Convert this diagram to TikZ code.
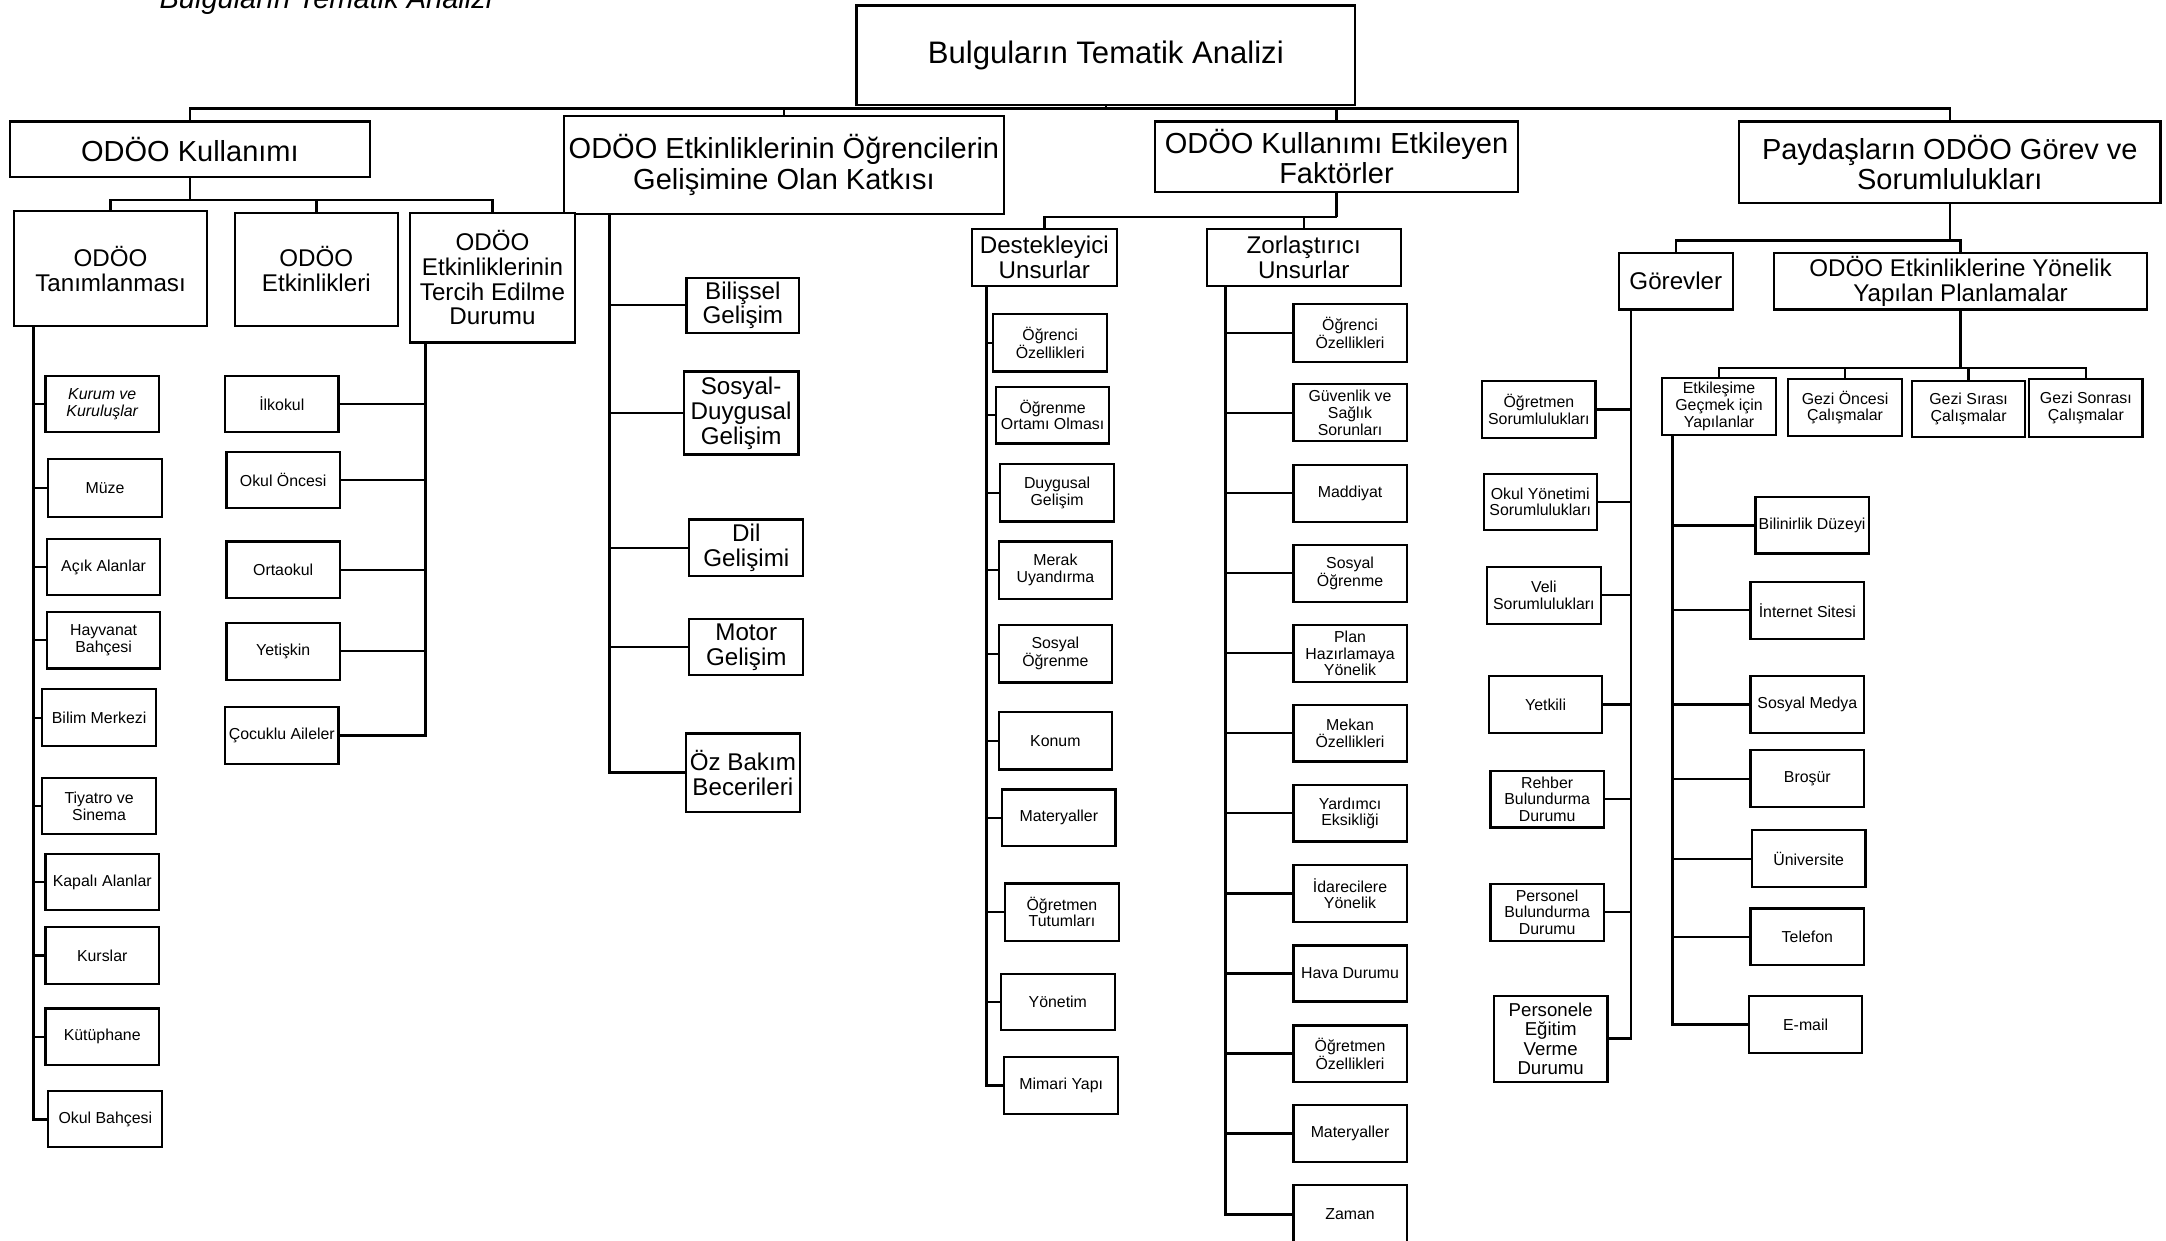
\documentclass[tikz,border=0pt]{standalone}
\usepackage{fontspec}
\setmainfont{Liberation Sans}
\usetikzlibrary{backgrounds}
\newcommand\fsz[2]{\fontsize{#1}{#2}\selectfont}
% \bx{name}{style}{x1}{y1}{x2}{y2}{text}
\newcommand\bx[7]{\node[#2, minimum width={(#5-#3)*1pt}, minimum height={(#6-#4)*1pt}] (#1) at ({(#3+#5)/2},{(#4+#6)/2}) {#7};}
\tikzset{
  box/.style={draw, line width=1.6pt, inner sep=0pt, align=center, fill=white},
  sbox/.style={box, font=\fsz{11.5}{12}},
  pbox/.style={box, font=\fsz{13.5}{14}},
  mbox/.style={box, font=\fsz{17.5}{18}},
  lbox/.style={box, font=\fsz{21}{22}},
  rbox/.style={box, font=\fsz{22.5}{24}},
  bus/.style={line width=1.7pt, line join=miter},
  trunk/.style={line width=2.1pt, line join=miter},
  branch/.style={line width=1.6pt},
}
\begin{document}
\begin{tikzpicture}[x=1pt,y=-1pt]
\useasboundingbox (0,0) rectangle (1568,898);

\node[anchor=base west, font=\fsz{21}{22}\itshape] (title) at (112,6) {Bulguların Tematik Analizi};

% level 0 / 1
\bx{root}{rbox}{620}{4}{981}{76}{Bulguların Tematik Analizi}
\bx{kull}{lbox}{7}{88}{268}{128}{ODÖO Kullanımı}
\bx{katki}{lbox}{408}{84}{727}{155}{ODÖO Etkinliklerinin Öğrencilerin\\Gelişimine Olan Katkısı}
\bx{fak}{lbox}{836}{88}{1099}{139}{ODÖO Kullanımı Etkileyen\\Faktörler}
\bx{pay}{lbox}{1259}{88}{1564}{147}{Paydaşların ODÖO Görev ve\\Sorumlulukları}

% ODÖO Kullanımı
\bx{tan}{mbox}{10}{153}{150}{236}{ODÖO\\Tanımlanması}
\bx{etk}{mbox}{170}{154}{288}{236}{ODÖO\\Etkinlikleri}
\bx{terc}{mbox}{297}{154}{416}{248}{ODÖO\\Etkinliklerinin\\Tercih Edilme\\Durumu}

\bx{kurum}{sbox}{33}{272}{115}{313}{\itshape Kurum ve\\\itshape Kuruluşlar}
\bx{muze}{sbox}{35}{332}{117}{374}{Müze}
\bx{acik}{sbox}{34}{390}{116}{431}{Açık Alanlar}
\bx{hayv}{sbox}{34}{443}{116}{484}{Hayvanat\\Bahçesi}
\bx{bilim}{sbox}{30.5}{499}{113}{540}{Bilim Merkezi}
\bx{tiy}{sbox}{30.5}{563}{113}{604}{Tiyatro ve\\Sinema}
\bx{kapali}{sbox}{33}{618}{115}{659}{Kapalı Alanlar}
\bx{kurs}{sbox}{33}{671}{115}{712.5}{Kurslar}
\bx{kutup}{sbox}{33}{730}{115}{771}{Kütüphane}
\bx{okulb}{sbox}{35}{790}{117.5}{830.5}{Okul Bahçesi}

\bx{ilk}{sbox}{163}{272}{245}{313}{İlkokul}
\bx{onc}{sbox}{164}{327}{246}{368}{Okul Öncesi}
\bx{orta}{sbox}{164}{392}{246}{433}{Ortaokul}
\bx{yet}{sbox}{164}{451}{246}{492}{Yetişkin}
\bx{cocuk}{sbox}{163}{512}{245}{553}{Çocuklu Aileler}

% Katkı
\bx{bil}{mbox}{497}{201}{578.5}{241}{Bilişsel\\Gelişim}
\bx{sos}{mbox}{495}{269}{578}{329}{Sosyal-\\Duygusal\\Gelişim}
\bx{dil}{mbox}{499}{376}{581.5}{417}{Dil\\Gelişimi}
\bx{mot}{mbox}{499}{448}{581.5}{488.5}{Motor\\Gelişim}
\bx{oz}{mbox}{496.5}{531}{579}{588}{Öz Bakım\\Becerileri}

% Faktörler
\bx{dest}{mbox}{703.5}{166}{808.5}{207}{Destekleyici\\Unsurlar}
\bx{zor}{mbox}{873.5}{166}{1014}{207}{Zorlaştırıcı\\Unsurlar}

\bx{d1}{sbox}{719}{227.5}{801.5}{269}{Öğrenci\\Özellikleri}
\bx{d2}{sbox}{721}{280}{803}{321}{Öğrenme\\Ortamı Olması}
\bx{d3}{sbox}{724}{336}{806.5}{377.5}{Duygusal\\Gelişim}
\bx{d4}{sbox}{723}{392}{805}{433.5}{Merak\\Uyandırma}
\bx{d5}{sbox}{723}{452.5}{805}{494}{Sosyal\\Öğrenme}
\bx{d6}{sbox}{723}{515.5}{805}{557}{Konum}
\bx{d7}{sbox}{725.5}{571.5}{807.5}{612.5}{Materyaller}
\bx{d8}{sbox}{727.5}{639.5}{810}{681}{Öğretmen\\Tutumları}
\bx{d9}{sbox}{724.5}{705}{807}{745.5}{Yönetim}
\bx{d10}{sbox}{727}{765}{809.5}{806.5}{Mimari Yapı}

\bx{z1}{sbox}{936.3}{220.3}{1018.3}{261.8}{Öğrenci\\Özellikleri}
\bx{z2}{sbox}{936.3}{278.2}{1018.3}{319.5}{Güvenlik ve\\Sağlık\\Sorunları}
\bx{z3}{sbox}{936.3}{336.6}{1018.3}{377.6}{Maddiyat}
\bx{z4}{sbox}{936.3}{394.5}{1018.3}{435.6}{Sosyal\\Öğrenme}
\bx{z5}{sbox}{936.3}{452.4}{1018.3}{493.5}{Plan\\Hazırlamaya\\Yönelik}
\bx{z6}{sbox}{936.3}{510.4}{1018.3}{551.2}{Mekan\\Özellikleri}
\bx{z7}{sbox}{936.3}{568.5}{1018.3}{609.1}{Yardımcı\\Eksikliği}
\bx{z8}{sbox}{936.3}{626.4}{1018.3}{667.3}{İdarecilere\\Yönelik}
\bx{z9}{sbox}{936.3}{684.4}{1018.3}{725}{Hava Durumu}
\bx{z10}{sbox}{936.3}{742.3}{1018.3}{783.1}{Öğretmen\\Özellikleri}
\bx{z11}{sbox}{936.3}{800}{1018.3}{841.2}{Materyaller}
\bx{z12}{sbox}{936.3}{858.1}{1018.3}{900}{Zaman}

% Paydaşlar
\bx{gor}{mbox}{1172}{183}{1254.3}{224}{Görevler}
\bx{plan}{mbox}{1284}{183}{1554.5}{224}{ODÖO Etkinliklerine Yönelik\\Yapılan Planlamalar}

\bx{g1}{sbox}{1073}{276}{1155}{317}{Öğretmen\\Sorumlulukları}
\bx{g2}{sbox}{1074}{343}{1156}{383.5}{Okul Yönetimi\\Sorumlulukları}
\bx{g3}{sbox}{1076.5}{410.5}{1158.7}{451.5}{Veli\\Sorumlulukları}
\bx{g4}{sbox}{1078}{489.4}{1159.7}{530.6}{Yetkili}
\bx{g5}{sbox}{1079}{558}{1161}{599}{Rehber\\Bulundurma\\Durumu}
\bx{g6}{sbox}{1079}{639.7}{1161}{681}{Personel\\Bulundurma\\Durumu}
\bx{g7}{pbox}{1081.4}{721}{1163.7}{783}{Personele\\Eğitim\\Verme\\Durumu}

\bx{p1}{sbox}{1203.4}{273.4}{1285.5}{315}{Etkileşime\\Geçmek için\\Yapılanlar}
\bx{p2}{sbox}{1294.6}{274.4}{1376.7}{315.6}{Gezi Öncesi\\Çalışmalar}
\bx{p3}{sbox}{1384.1}{275.6}{1466.1}{316.6}{Gezi Sırası\\Çalışmalar}
\bx{p4}{sbox}{1469}{274.6}{1551}{316.1}{Gezi Sonrası\\Çalışmalar}

\bx{e1}{sbox}{1270.8}{360}{1352.8}{400.7}{Bilinirlik Düzeyi}
\bx{e2}{sbox}{1267.2}{421.3}{1349.5}{462.4}{İnternet Sitesi}
\bx{e3}{sbox}{1267.2}{489.3}{1349.5}{530.6}{Sosyal Medya}
\bx{e4}{sbox}{1267.2}{543.1}{1349.5}{584.2}{Broşür}
\bx{e5}{sbox}{1268.2}{601}{1350.5}{642.1}{Üniversite}
\bx{e6}{sbox}{1267.2}{657.7}{1349.5}{698.8}{Telefon}
\bx{e7}{sbox}{1266.1}{721}{1348.1}{762.3}{E-mail}

% connector helper coordinates
\coordinate (mainbus) at (0,78.5);
\coordinate (kb) at (0,145);
\coordinate (fb) at (0,157);
\coordinate (pb) at (0,174.2);
\coordinate (plb) at (0,266.2);
\coordinate (tanT) at (24.5,236);
\coordinate (tercT) at (308,248);
\coordinate (katT) at (441,155);
\coordinate (destT) at (714.3,207);
\coordinate (zorT) at (887.3,207);
\coordinate (gorT) at (1180.7,224);
\coordinate (etkT) at (1211,315);

\begin{pgfonlayer}{background}
\fill[white] (0,0) rectangle (1568,898);
% main bus
\draw[bus] (root.south) -- (root.south |- mainbus);
\draw[bus] (kull.north) -- (kull.north |- mainbus) -- (pay.north |- mainbus) -- (pay.north);
\draw[bus] (katki.north) -- (katki.north |- mainbus);
\draw[bus] (fak.north) -- (fak.north |- mainbus);
% ODÖO Kullanımı
\draw[bus] (kull.south) -- (kull.south |- kb);
\draw[bus] (tan.north) -- (tan.north |- kb) -- (terc.north |- kb) -- (terc.north);
\draw[bus] (etk.north) -- (etk.north |- kb);
\draw[trunk] (tanT) |- (okulb.west);
\foreach \n in {kurum,muze,acik,hayv,bilim,tiy,kapali,kurs,kutup}
  \draw[branch] (\n.west) -- (\n.west -| tanT);
\draw[trunk] (tercT) |- (cocuk.east);
\foreach \n in {ilk,onc,orta,yet}
  \draw[branch] (\n.east) -- (\n.east -| tercT);
% Katkı
\draw[trunk] (katT) |- (oz.west);
\foreach \n in {bil,sos,dil,mot}
  \draw[branch] (\n.west) -- (\n.west -| katT);
% Faktörler
\draw[bus] (fak.south) -- (fak.south |- fb);
\draw[bus] (dest.north) -- (dest.north |- fb) -- (fak.south |- fb);
\draw[bus] (zor.north) -- (zor.north |- fb);
\draw[trunk] (destT) |- (d10.west);
\foreach \n in {d1,d2,d3,d4,d5,d6,d7,d8,d9}
  \draw[branch] (\n.west) -- (\n.west -| destT);
\draw[trunk] (zorT) |- (z12.west);
\foreach \n in {z1,z2,z3,z4,z5,z6,z7,z8,z9,z10,z11}
  \draw[branch] (\n.west) -- (\n.west -| zorT);
% Paydaşlar
\draw[bus] (pay.south) -- (pay.south |- pb);
\draw[bus] (gor.north) -- (gor.north |- pb) -- (plan.north |- pb) -- (plan.north);
\draw[trunk] (gorT) |- (g7.east);
\foreach \n in {g1,g2,g3,g4,g5,g6}
  \draw[branch] (\n.east) -- (\n.east -| gorT);
\draw[bus] (plan.south) -- (plan.south |- plb);
\draw[bus] (p1.north) -- (p1.north |- plb) -- (p4.north |- plb) -- (p4.north);
\draw[bus] (p2.north) -- (p2.north |- plb);
\draw[bus] (p3.north) -- (p3.north |- plb);
\draw[trunk] (etkT) |- (e7.west);
\foreach \n in {e1,e2,e3,e4,e5,e6}
  \draw[branch] (\n.west) -- (\n.west -| etkT);
\end{pgfonlayer}
\end{tikzpicture}
\end{document}
